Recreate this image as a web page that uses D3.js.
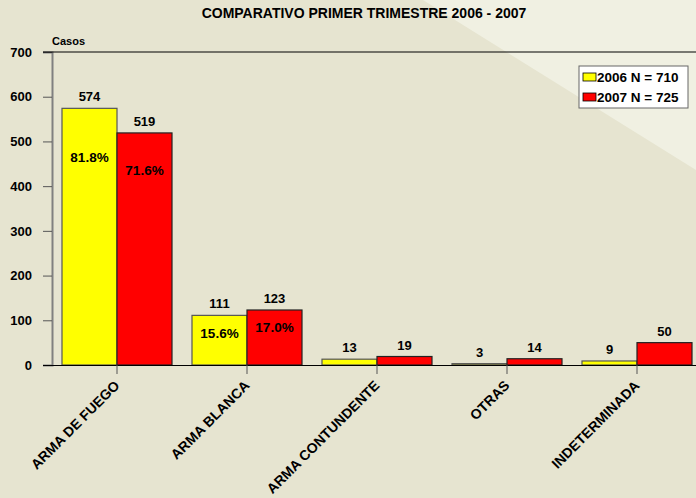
<!DOCTYPE html>
<html>
<head>
<meta charset="utf-8">
<script src="https://cdn.jsdelivr.net/npm/d3@7"></script>
<style>
  body { margin: 0; background: #e6e4d0; }
  svg { display: block; font-family: "Liberation Sans", Arial, sans-serif; font-weight: bold; }
</style>
</head>
<body>
<script>
// data
const categories = ["ARMA DE FUEGO", "ARMA BLANCA", "ARMA CONTUNDENTE", "OTRAS", "INDETERMINADA"];
const series = ["2006 N = 710", "2007 N = 725"];
const values2006 = [574, 111, 13, 3, 9];
const values2007 = [519, 123, 19, 14, 50];
const pct2006 = ["81.8%", "15.6%", null, null, null];
const pct2007 = ["71.6%", "17.0%", null, null, null];
const yTicks = [0, 100, 200, 300, 400, 500, 600, 700];
const colors = ["#ffff00", "#ff0000"];
const strokes = ["#555", "#222"];

const width = 696, height = 498;
const svg = d3.select("body").append("svg")
    .attr("width", width)
    .attr("height", height);

// background with lighter diagonal wedge
svg.append("rect").attr("width", width).attr("height", height).attr("fill", "#e6e4d0");
svg.append("path").attr("d", "M423,0L696,0L696,170Z").attr("fill", "#f0f0e2");

const x = d3.scaleBand().domain(categories).range([52, 702]);
const x1 = d3.scaleBand().domain([0, 1]).range([0, 110]);
const y = d3.scaleLinear().domain([0, 700]).range([365, 52]);

// title
svg.append("text")
    .attr("x", 364).attr("y", 18)
    .attr("text-anchor", "middle")
    .attr("font-size", 14)
    .text("COMPARATIVO PRIMER TRIMESTRE 2006 - 2007");

svg.append("text")
    .attr("x", 52).attr("y", 45)
    .attr("font-size", 11)
    .text("Casos");

// y axis
const yAxis = svg.append("g")
    .attr("transform", "translate(52,0)")
    .call(d3.axisLeft(y).tickValues(yTicks).tickSize(9).tickPadding(11));
yAxis.select(".domain").attr("stroke", "#808080").attr("stroke-width", 2);
yAxis.selectAll(".tick line").attr("stroke", "#555");
yAxis.selectAll(".tick text").attr("font-size", 13).attr("font-weight", "bold").attr("font-family", "Liberation Sans, Arial, sans-serif").attr("fill", "#000");

// top frame line
svg.append("line").attr("x1", 43).attr("x2", 696).attr("y1", y(700)).attr("y2", y(700)).attr("stroke", "#000");

// bars
const rows = categories.map((c, i) => ({ cat: c, vals: [values2006[i], values2007[i]], pcts: [pct2006[i], pct2007[i]] }));
const pctOffset = [[49, 37], [18, 17]];

const grp = svg.append("g").selectAll("g")
    .data(rows)
    .join("g")
    .attr("transform", d => `translate(${x(d.cat) + 10},0)`);

grp.selectAll("rect")
    .data(d => d.vals.map((v, k) => ({ v, k })))
    .join("rect")
    .attr("x", d => x1(d.k))
    .attr("width", x1.bandwidth())
    .attr("y", d => y(d.v))
    .attr("height", d => y(0) - y(d.v))
    .attr("fill", d => colors[d.k])
    .attr("stroke", d => strokes[d.k])
    .attr("stroke-width", 1.2);

grp.selectAll("text.val")
    .data(d => d.vals.map((v, k) => ({ v, k })))
    .join("text")
    .attr("class", "val")
    .attr("x", d => x1(d.k) + x1.bandwidth() / 2)
    .attr("y", d => y(d.v) - 7)
    .attr("text-anchor", "middle")
    .attr("font-size", 13)
    .text(d => d.v);

grp.selectAll("text.pct")
    .data((d, i) => d.pcts.map((p, k) => ({ p, k, v: d.vals[k], i })).filter(e => e.p))
    .join("text")
    .attr("class", "pct")
    .attr("x", d => x1(d.k) + x1.bandwidth() / 2)
    .attr("y", d => y(d.v) + pctOffset[d.i][d.k] + 5)
    .attr("text-anchor", "middle")
    .attr("font-size", 13.5)
    .text(d => d.p);

// x axis
const xAxis = svg.append("g")
    .attr("transform", `translate(0,${y(0)})`)
    .call(d3.axisBottom(x).tickSize(9).tickSizeOuter(0));
xAxis.select(".domain").attr("d", "M43,0.5H696").attr("stroke", "#000");
xAxis.selectAll(".tick line").attr("stroke", "#555");
xAxis.selectAll(".tick text")
    .attr("font-size", 14)
    .attr("font-weight", "bold")
    .attr("font-family", "Liberation Sans, Arial, sans-serif")
    .attr("fill", "#000")
    .attr("text-anchor", "end")
    .attr("y", 0)
    .attr("dy", "0.35em")
    .attr("transform", "translate(0,18) rotate(-45)");

// legend
const lg = svg.append("g").attr("transform", "translate(579,66)");
lg.append("rect").attr("width", 109).attr("height", 42).attr("fill", "#fff").attr("stroke", "#666");
series.forEach((s, k) => {
    lg.append("rect").attr("x", 4).attr("y", 7 + k * 20).attr("width", 13).attr("height", 8)
        .attr("fill", colors[k]).attr("stroke", "#000").attr("stroke-width", 0.8);
    lg.append("text").attr("x", 18).attr("y", 16 + k * 20).attr("font-size", 13.5).text(s);
});
</script>
</body>
</html>
